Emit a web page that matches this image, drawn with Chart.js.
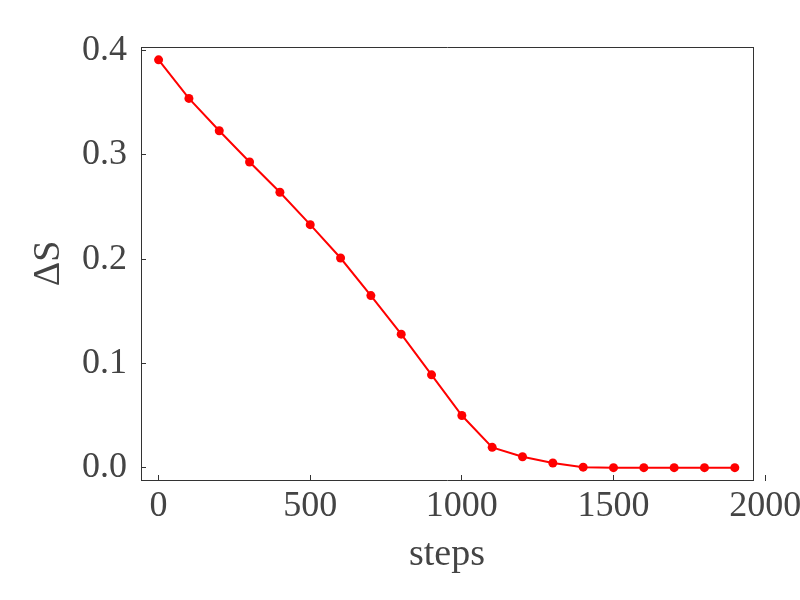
<!DOCTYPE html>
<html>
<head>
<meta charset="utf-8">
<title>ΔS vs steps</title>
<script src="https://cdn.jsdelivr.net/npm/chart.js@4.4.1/dist/chart.umd.min.js"></script>
<style>
  html, body { margin: 0; padding: 0; background: #fff; }
  #wrap { width: 800px; height: 600px; }
</style>
</head>
<body>
<div id="wrap"><canvas id="chart" width="800" height="600"></canvas></div>
<script>
// data
const steps = [0, 100, 200, 300, 400, 500, 600, 700, 800, 900, 1000, 1100, 1200, 1300, 1400, 1500, 1600, 1700, 1800, 1900];
const deltaS = [0.391, 0.354, 0.323, 0.293, 0.264, 0.233, 0.201, 0.165, 0.128, 0.089, 0.050, 0.0195, 0.0105, 0.0045, 0.0005, 0, 0, 0, 0, 0];
const xTicks = [0, 500, 1000, 1500, 2000];
const yTicks = [0.0, 0.1, 0.2, 0.3, 0.4];

const textColor = "#444444";
const frameColor = "#333333";
const serif = "'Liberation Serif', 'DejaVu Serif', serif";

const ctx = document.getElementById("chart").getContext("2d");

new Chart(ctx, {
  type: "line",
  data: {
    datasets: [
      {
        label: "ΔS",
        data: steps.map((s, i) => ({ x: s, y: deltaS[i] })),
        borderColor: "#ff0000",
        backgroundColor: "#ff0000",
        borderWidth: 2,
        pointRadius: 4.5,
        pointBackgroundColor: "#ff0000",
        pointBorderWidth: 0,
        tension: 0,
        fill: false,
      },
    ],
  },
  options: {
    responsive: false,
    animation: false,
    layout: {
      padding: { top: 47, right: 47, left: 0, bottom: 0 },
    },
    plugins: {
      legend: { display: false },
      tooltip: { enabled: false },
    },
    scales: {
      x: {
        type: "linear",
        position: "bottom",
        min: -58,
        max: 1960,
        afterBuildTicks: (scale) => {
          scale.ticks = xTicks.map((v) => ({ value: v }));
        },
        afterFit: (scale) => {
          scale.height = 120;
          scale.paddingLeft = 0;
          scale.paddingRight = 0;
        },
        ticks: {
          color: textColor,
          font: { family: serif, size: 36 },
          padding: 10,
          maxRotation: 0,
          autoSkip: false,
          callback: (v) => String(v),
        },
        grid: {
          display: true,
          drawOnChartArea: false,
          drawTicks: true,
          tickLength: -5,
          color: frameColor,
        },
        border: { display: true, color: frameColor, width: 1 },
        title: {
          display: true,
          text: "steps",
          color: textColor,
          font: { family: serif, size: 38 },
          padding: { top: 0, bottom: 22 },
        },
      },
      y: {
        type: "linear",
        position: "left",
        min: -0.0118,
        max: 0.4033,
        afterBuildTicks: (scale) => {
          scale.ticks = yTicks.map((v) => ({ value: v }));
        },
        afterFit: (scale) => {
          scale.width = 141;
          scale.paddingTop = 0;
          scale.paddingBottom = 0;
        },
        ticks: {
          color: textColor,
          font: { family: serif, size: 36 },
          padding: 19,
          callback: (v) => Number(v).toFixed(1),
        },
        grid: {
          display: true,
          drawOnChartArea: false,
          drawTicks: true,
          tickLength: -5,
          color: frameColor,
        },
        border: { display: true, color: frameColor, width: 1 },
        title: {
          display: true,
          text: "ΔS",
          color: textColor,
          font: { family: serif, size: 38 },
          padding: { top: 26, bottom: 0 },
        },
      },
      // top and right edges of the frame
      x2: {
        type: "linear",
        position: "top",
        afterFit: (scale) => {
          scale.height = 0;
        },
        ticks: { display: false },
        grid: { display: false },
        border: { display: true, color: frameColor, width: 1 },
      },
      y2: {
        type: "linear",
        position: "right",
        afterFit: (scale) => {
          scale.width = 0;
        },
        ticks: { display: false },
        grid: { display: false },
        border: { display: true, color: frameColor, width: 1 },
      },
    },
  },
});
</script>
</body>
</html>
